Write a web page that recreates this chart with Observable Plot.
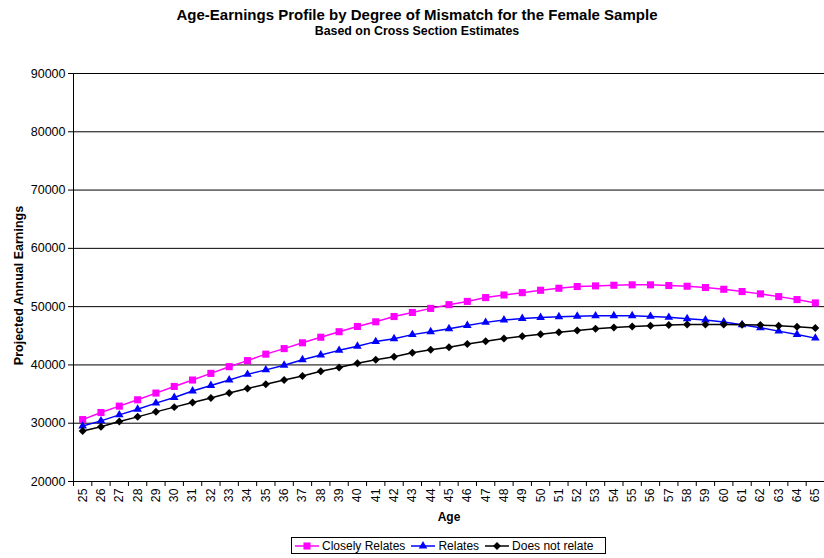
<!DOCTYPE html>
<html>
<head>
<meta charset="utf-8">
<script src="https://cdn.jsdelivr.net/npm/d3@7"></script>
<script src="https://cdn.jsdelivr.net/npm/@observablehq/plot@0.6"></script>
<style>
  body { margin: 0; background: #fff; color: #000; font-family: "Liberation Sans", Arial, sans-serif; }
  #wrap { position: relative; width: 824px; height: 558px; overflow: hidden; }
  #title { position: absolute; top: 6px; left: 5px; width: 824px; text-align: center; font-weight: bold; font-size: 15px; line-height: 18px; }
  #subtitle { position: absolute; top: 24px; left: 5px; width: 824px; text-align: center; font-weight: bold; font-size: 12.4px; line-height: 14px; }
  #chart { position: absolute; top: 45px; left: 0; }
  #legend { position: absolute; left: 291px; top: 537px; width: 315px; height: 17px; border: 1px solid #000;
            display: flex; align-items: center; font-size: 12px; box-sizing: border-box; padding-left: 3px; }
  #legend .item { display: flex; align-items: center; margin-right: 6px; white-space: nowrap; }
  #legend svg { margin-right: 3px; }
</style>
</head>
<body>
<div id="wrap">
  <div id="title">Age-Earnings Profile by Degree of Mismatch for the Female Sample</div>
  <div id="subtitle">Based on Cross Section Estimates</div>
  <div id="chart"></div>
  <div id="legend"></div>
</div>
<script>
const ages = d3.range(25, 66);
const closelyRelates = [30620,31830,32930,34020,35170,36310,37410,38550,39700,40740,
  41850,42800,43800,44750,45700,46600,47400,48300,49000,49700,
  50340,50900,51550,52000,52400,52810,53150,53450,53560,53670,53740,
  53740,53620,53500,53280,52980,52590,52190,51720,51210,50640];
const relates = [29530,30400,31430,32400,33450,34410,35520,36480,37410,38380,
  39150,39950,40900,41700,42500,43200,44000,44500,45200,45700,
  46210,46780,47300,47700,47950,48150,48280,48370,48420,48440,48430,
  48330,48160,47930,47700,47360,46900,46380,45800,45230,44600];
const doesNotRelate = [28670,29410,30280,31090,31950,32760,33550,34310,35170,35970,
  36700,37400,38100,38900,39550,40300,40900,41400,42100,42600,
  43030,43600,44070,44530,44930,45280,45620,45910,46200,46430,46600,
  46720,46830,46950,46950,46950,46900,46830,46720,46550,46320];
const seriesNames = ["Closely Relates", "Relates", "Does not relate"];
const seriesColors = ["#FF00FF", "#0000FF", "#000000"];
const seriesSymbols = ["square", "triangle", "diamond2"];
const seriesR = [4, 3.2, 3.6];
const yTicks = [20000, 30000, 40000, 50000, 60000, 70000, 80000, 90000];
const yTitle = "Projected Annual Earnings";
const xTitle = "Age";

const seriesValues = [closelyRelates, relates, doesNotRelate];
const seriesMarks = seriesValues.flatMap((vals, s) => {
  const rows = ages.map((a, i) => ({age: a, value: vals[i]}));
  return [
    Plot.line(rows, {x: "age", y: "value", stroke: seriesColors[s], strokeWidth: 1.5}),
    Plot.dot(rows, {x: "age", y: "value", symbol: seriesSymbols[s], fill: seriesColors[s], stroke: "none", r: seriesR[s]})
  ];
});

const bounds = d3.range(24.5, 66, 1);

const chart = Plot.plot({
  width: 824,
  height: 485,
  marginTop: 28,
  marginBottom: 49,
  marginLeft: 73,
  marginRight: 0,
  style: {fontFamily: "'Liberation Sans', Arial, sans-serif", fontSize: "12px", color: "#000", background: "transparent"},
  x: {type: "linear", domain: [24.5, 65.5]},
  y: {domain: [20000, 90000]},
  marks: [
    Plot.gridY(yTicks.slice(1), {stroke: "#000", strokeOpacity: 1, strokeWidth: 1}),
    Plot.ruleY([20000], {stroke: "#000"}),
    Plot.ruleX([24.5], {stroke: "#000"}),
    Plot.axisY(yTicks, {tickSize: 5, tickPadding: 3, tickFormat: d3.format("d"), fontSize: 12.5, label: null}),
    Plot.axisX(bounds, {tickSize: 5, tickFormat: () => "", label: null}),
    Plot.axisX(ages, {tickSize: 0, tickRotate: -90, tickPadding: 7, fontSize: 12.3, label: null}),
    ...seriesMarks,
    Plot.text([xTitle], {frameAnchor: "bottom", textAnchor: "middle", lineAnchor: "middle", dy: 36, fontWeight: "bold", fontSize: 12}),
    Plot.text([yTitle], {frameAnchor: "left", textAnchor: "middle", lineAnchor: "middle", rotate: -90, dx: -54.5, dy: 8, fontWeight: "bold", fontSize: 12.5})
  ]
});
document.getElementById("chart").appendChild(chart);

// legend
const legend = document.getElementById("legend");
seriesNames.forEach((name, s) => {
  const item = document.createElement("div");
  item.className = "item";
  const sym = d3.symbol(
    s === 0 ? d3.symbolSquare : s === 1 ? d3.symbolTriangle : d3.symbolDiamond2,
    Math.PI * seriesR[s] * seriesR[s])();
  item.innerHTML = `<svg width="24" height="12"><line x1="0" y1="6" x2="24" y2="6" stroke="${seriesColors[s]}" stroke-width="1.5"/><path transform="translate(12,6)" d="${sym}" fill="${seriesColors[s]}"/></svg><span>${name}</span>`;
  legend.appendChild(item);
});
</script>
</body>
</html>
